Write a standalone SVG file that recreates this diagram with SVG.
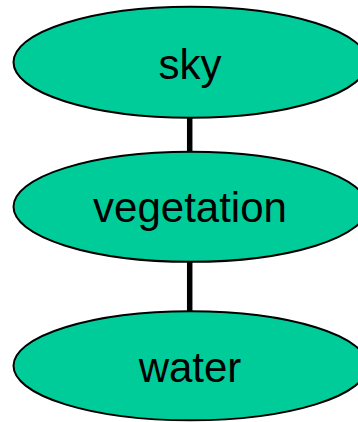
<svg xmlns="http://www.w3.org/2000/svg" width="358" height="422" viewBox="0 0 358 422">
<style>
.node ellipse{fill:#00CC99;stroke:#000;stroke-width:2}
.node text{font-family:"Liberation Sans",Arial,sans-serif;font-size:42px;fill:#000;text-anchor:middle}
.edge{stroke:#000;stroke-width:5.5}
</style>
<rect width="358" height="422" fill="#fff"/>
<g id="connectors">
<line class="edge" x1="189.7" y1="117" x2="189.7" y2="152"/>
<line class="edge" x1="189.7" y1="262" x2="189.7" y2="312"/>
</g>
<g id="sky" class="node">
<ellipse cx="190.5" cy="62.2" rx="177" ry="55.5"/>
<text x="190" y="79">sky</text>
</g>
<g id="vegetation" class="node">
<ellipse cx="190.5" cy="206.8" rx="177" ry="55"/>
<text x="190" y="221.7">vegetation</text>
</g>
<g id="water" class="node">
<ellipse cx="190.5" cy="365.8" rx="177" ry="54.5"/>
<text x="190" y="381.7">water</text>
</g>
</svg>
